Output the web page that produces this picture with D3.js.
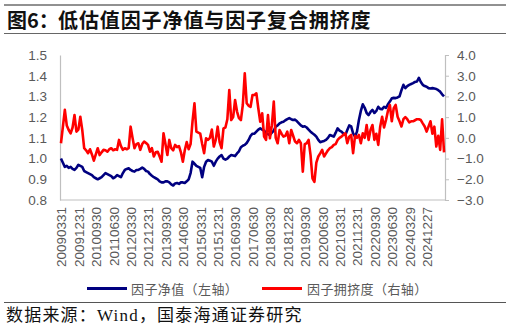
<!DOCTYPE html>
<html>
<head>
<meta charset="utf-8">
<script src="https://cdn.jsdelivr.net/npm/d3@7/dist/d3.min.js"></script>
<style>
  html, body { margin: 0; padding: 0; background: #fff; }
  svg { display: block; }
</style>
</head>
<body>
<svg id="chart" width="510" height="329"></svg>
<script>
// Monthly observations, March 2009 onwards
const netValue = [
  1.00, 0.98, 0.96, 0.965, 0.955, 0.96, 0.95, 0.945, 0.955, 0.97,
  0.965, 0.96, 0.94, 0.935, 0.93, 0.925, 0.92, 0.91, 0.905, 0.90,
  0.905, 0.91, 0.92, 0.93, 0.925, 0.92, 0.915, 0.905, 0.91, 0.92,
  0.915, 0.91, 0.93, 0.945, 0.95, 0.953, 0.945, 0.94, 0.937, 0.945,
  0.945, 0.95, 0.956, 0.95, 0.94, 0.937, 0.925, 0.917, 0.91, 0.905,
  0.90, 0.89, 0.885, 0.885, 0.89, 0.89, 0.885, 0.875, 0.87, 0.88,
  0.882, 0.878, 0.885, 0.885, 0.882, 0.89, 0.90, 0.93, 0.985, 0.975,
  0.965, 0.96, 0.955, 0.91, 0.96, 0.985, 0.993, 0.99, 0.985, 0.965,
  0.985, 1.0, 1.01, 1.017, 1.0, 0.995, 1.0, 1.01, 1.017, 1.015,
  1.012, 1.025, 1.035, 1.055, 1.062, 1.066, 1.075, 1.09, 1.11, 1.12,
  1.12, 1.13, 1.14, 1.146, 1.14, 1.135, 1.122, 1.118, 1.114, 1.125,
  1.135, 1.154, 1.16, 1.17, 1.175, 1.178, 1.185, 1.19, 1.195, 1.19,
  1.186, 1.188, 1.18, 1.17, 1.16, 1.154, 1.156, 1.15, 1.14, 1.13,
  1.122, 1.115, 1.106, 1.09, 1.079, 1.082, 1.085, 1.09, 1.1, 1.114,
  1.11, 1.106, 1.125, 1.146, 1.135, 1.13, 1.12, 1.114, 1.138, 1.16,
  1.155, 1.122, 1.106, 1.13, 1.186, 1.23, 1.262, 1.245, 1.22, 1.21,
  1.225, 1.235, 1.22, 1.23, 1.25, 1.24, 1.238, 1.25, 1.245, 1.262,
  1.275, 1.291, 1.293, 1.292, 1.295, 1.30, 1.33, 1.356, 1.34, 1.35,
  1.356, 1.36, 1.364, 1.37, 1.372, 1.39, 1.37, 1.356, 1.35, 1.347,
  1.34, 1.338, 1.34, 1.338, 1.336, 1.33, 1.323, 1.31, 1.30
];

const crowding = [
  -0.26, 0.54, 1.35, 0.6, 0.38, 0.22, 0.5, 1.1, 0.3, 0.4,
  1.02, 0.38, -0.5, -0.6, -0.74, -0.55, -0.8, -1.1, -0.8, -0.5,
  -0.83, -0.7, -0.58, -0.6, -0.67, -0.55, -0.5, -0.6, -0.55, -0.58,
  -0.1, -0.4, -0.58, -0.5, -0.55, -0.5, 0.54, 0.0, -0.5, -0.3,
  -0.26, -0.58, -0.3, -0.18, -0.25, -0.34, -0.67, -0.5, -0.9, -0.7,
  -0.67, -0.9, -1.15, 0.22, -0.3, -0.83, -0.1, -0.5, -0.6, -0.34,
  -0.45, -0.4, -0.7, -1.15, -0.6, -0.2, -0.55, -0.3, 0.8, 1.67,
  0.3, 0.25, 0.2, -0.3, -0.74, -0.02, -0.1, 0.0, 0.4, -0.42,
  -0.1, 0.54, -0.2, -0.5, 0.46, 0.5, 0.9, 2.31, 0.86, 1.0,
  1.83, 1.27, 0.95, 0.86, 1.6, 3.12, 1.67, 1.55, 1.5, 2.07,
  2.07, 2.15, 1.43, 0.78, 1.19, 0.06, -0.1, 1.1, -0.02, 0.6,
  1.75, 0.0, -0.26, 0.38, 0.2, 0.06, 0.1, 0.3, -0.26, 0.38,
  0.1, -0.18, -0.26, -0.1, -0.26, -1.63, -0.3, -0.26, -0.1, -0.83,
  -1.95, -2.12, -1.2, -0.9, -0.75, -0.58, -0.9, -0.75, -0.6, -0.5,
  -0.45, -0.34, -0.3, -0.1, 0.0, 0.06, 0.15, 0.22, -0.26, 0.06,
  0.14, -0.74, 0.1, 0.0, 0.14, -0.26, 0.22, 0.0, 0.62, -0.1,
  0.38, 0.62, -0.1, 0.2, -0.34, 0.54, 1.02, 0.5, 0.86, 1.3,
  1.59, 0.8, 1.43, 1.59, 1.02, 0.8, 0.55, 0.9, 1.0, 0.9,
  0.75, 0.8, 0.8, 0.85, 0.9, 0.9, 0.86, 0.7, 0.55, 0.3,
  0.55, 0.8, 0.2, 0.54, -0.42, 0.1, -0.58, 0.9, -0.7
];

// Date labels shown every ninth month
const tickLabels = [
  "20090331", "20091231", "20100930", "20110630", "20120330", "20121231",
  "20130930", "20140630", "20150331", "20151231", "20160930", "20170630",
  "20180330", "20181228", "20190930", "20200630", "20210331", "20211231",
  "20220930", "20230630", "20240329", "20241227"
];
const tickStep = 9;

const leftTicks = [0.8, 0.9, 1.0, 1.1, 1.2, 1.3, 1.4, 1.5];
const rightTicks = [-3, -2, -1, 0, 1, 2, 3, 4];

const seriesNames = ["因子净值（左轴）", "因子拥挤度（右轴）"];
const seriesColors = ["#000080", "#ff0000"];

const svg = d3.select("#chart");
const m = { left: 60, right: 445, top: 55, bottom: 200 };
const axisColor = "#bfbfbf";
const textColor = "#595959";
const latin = "'Liberation Sans', Arial, sans-serif";
const cjk = "'Noto Sans CJK SC', sans-serif";

// Title block
svg.append("line").attr("x1", 4).attr("x2", 506).attr("y1", 5).attr("y2", 5)
  .attr("stroke", "#222").attr("stroke-width", 1);
svg.append("line").attr("x1", 4).attr("x2", 506).attr("y1", 33.5).attr("y2", 33.5)
  .attr("stroke", "#666").attr("stroke-width", 1);
svg.append("text").attr("x", 7).attr("y", 27.5)
  .attr("font-family", cjk).attr("font-weight", 700).attr("font-size", 20)
  .attr("fill", "#111").text("图6：");
svg.append("text").attr("x", 58).attr("y", 27.5)
  .attr("font-family", cjk).attr("font-weight", 700).attr("font-size", 20)
  .attr("letter-spacing", 0.9).attr("fill", "#111")
  .text("低估值因子净值与因子复合拥挤度");

// Scales
const idx = d3.range(netValue.length);
const x = d3.scalePoint().domain(idx).range([m.left, m.right]).padding(0.5);
const yL = d3.scaleLinear().domain([0.8, 1.5]).range([m.bottom, m.top]);
const yR = d3.scaleLinear().domain([-3, 4]).range([m.bottom, m.top]);

// Left axis
const gL = svg.append("g").attr("transform", `translate(${m.left},0)`)
  .call(d3.axisLeft(yL).tickValues(leftTicks).tickFormat(d3.format(".1f")).tickSize(0).tickPadding(13));
gL.select(".domain").attr("stroke", axisColor).attr("stroke-width", 1.2);
gL.selectAll("text").attr("font-family", latin).attr("font-size", 13.5).attr("fill", textColor);

// Right axis
const gR = svg.append("g").attr("transform", `translate(${m.right},0)`)
  .call(d3.axisRight(yR).tickValues(rightTicks).tickFormat(d3.format(".1f")).tickSize(4).tickPadding(8));
gR.select(".domain").attr("stroke", axisColor).attr("stroke-width", 1.2);
gR.selectAll("line").attr("stroke", axisColor);
gR.selectAll("text").attr("font-family", latin).attr("font-size", 13.5).attr("fill", textColor);

// Bottom axis with vertical date labels
const gB = svg.append("g").attr("transform", `translate(0,${m.bottom})`)
  .call(d3.axisBottom(x)
    .tickValues(tickLabels.map((_, k) => k * tickStep))
    .tickFormat((d) => tickLabels[d / tickStep])
    .tickSize(0));
gB.select(".domain").attr("stroke", axisColor).attr("stroke-width", 1.2)
  .attr("d", `M${m.left},0H${m.right}`);
gB.selectAll("text")
  .attr("font-family", latin).attr("font-size", 13.5).attr("fill", textColor)
  .attr("text-anchor", "end")
  .attr("transform", "rotate(-90)")
  .attr("x", -7).attr("y", 0).attr("dy", "0.36em");

// Lines
const lineL = d3.line().x((d, i) => x(i)).y((d) => yL(d));
const lineR = d3.line().x((d, i) => x(i)).y((d) => yR(d));
svg.append("path").datum(netValue).attr("d", lineL)
  .attr("fill", "none").attr("stroke", seriesColors[0]).attr("stroke-width", 2.6)
  .attr("stroke-linejoin", "round");
svg.append("path").datum(crowding).attr("d", lineR)
  .attr("fill", "none").attr("stroke", seriesColors[1]).attr("stroke-width", 2.6)
  .attr("stroke-linejoin", "round");

// Legend
const legendPos = [{ x1: 87, x2: 127, tx: 131 }, { x1: 262, x2: 302, tx: 307 }];
legendPos.forEach((p, i) => {
  svg.append("line").attr("x1", p.x1).attr("x2", p.x2).attr("y1", 288.5).attr("y2", 288.5)
    .attr("stroke", seriesColors[i]).attr("stroke-width", 3);
  svg.append("text").attr("x", p.tx).attr("y", 293.5)
    .attr("font-family", cjk).attr("font-size", 13).attr("letter-spacing", 0.4)
    .attr("fill", textColor).text(seriesNames[i]);
});

// Source note
svg.append("line").attr("x1", 4).attr("x2", 506).attr("y1", 302.5).attr("y2", 302.5)
  .attr("stroke", "#555").attr("stroke-width", 1);
const src = svg.append("text").attr("x", 6).attr("y", 321)
  .attr("font-family", cjk).attr("font-size", 17).attr("letter-spacing", 1.2).attr("fill", "#111");
src.append("tspan").text("数据来源：");
src.append("tspan").attr("font-family", "'Liberation Serif', serif").text("Wind");
src.append("tspan").text("，国泰海通证券研究");
</script>
</body>
</html>
